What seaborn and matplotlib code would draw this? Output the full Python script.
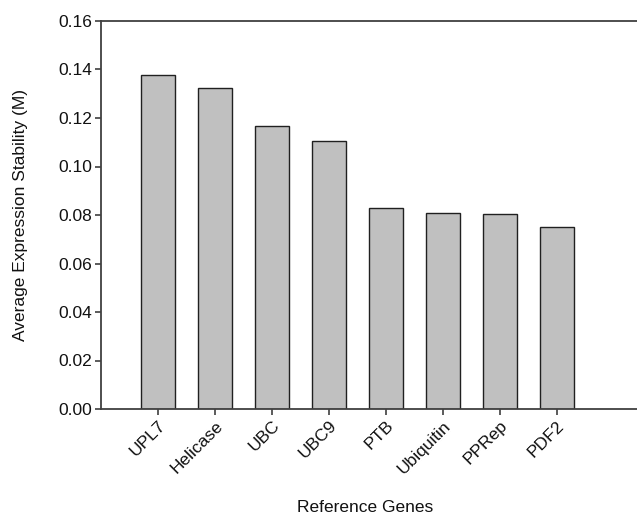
import matplotlib
matplotlib.use("Agg")
import matplotlib.pyplot as plt
import seaborn as sns
import pandas as pd

genes = ["UPL7", "Helicase", "UBC", "UBC9", "PTB", "Ubiquitin", "PPRep", "PDF2"]
stability = [0.1379, 0.1324, 0.1167, 0.1104, 0.0830, 0.0810, 0.0804, 0.0751]
y_ticks = [0.00, 0.02, 0.04, 0.06, 0.08, 0.10, 0.12, 0.14, 0.16]

sns.set_style("ticks")
plt.rcParams['font.family'] = ['Liberation Sans', 'DejaVu Sans']
plt.rcParams['text.color'] = '#111111'
plt.rcParams['axes.labelcolor'] = '#111111'
plt.rcParams['xtick.labelcolor'] = '#111111'
plt.rcParams['ytick.labelcolor'] = '#111111'

df = pd.DataFrame({"gene": genes, "M": stability})

fig = plt.figure(figsize=(6.37, 5.17), dpi=100)
ax = fig.add_axes([101/637, 1 - 409/517, (648 - 101)/637, (409 - 21)/517])

sns.barplot(data=df, x="gene", y="M", color="#c0c0c0", saturation=1,
            edgecolor="#202020", linewidth=1.0, width=0.6, ax=ax)

ax.set_xlim(-1, 8.6)
ax.set_ylim(0, 0.16)
ax.set_yticks(y_ticks)
ax.set_yticklabels([f"{v:.2f}" for v in y_ticks], fontsize=12.5)
ax.set_xticks(range(len(genes)))
ax.set_xticklabels(genes, rotation=45, ha="right", rotation_mode="anchor", fontsize=12.5)

for s in ["left", "bottom", "top"]:
    ax.spines[s].set_color("#404040")
    ax.spines[s].set_linewidth(1.3)
ax.spines["right"].set_visible(False)
ax.tick_params(axis="both", direction="out", length=4.5, width=1.2, color="#404040", pad=2)

ax.set_xlabel("Reference Genes", fontsize=12.5)
ax.set_ylabel("Average Expression Stability (M)", fontsize=12.5)
ax.xaxis.set_label_coords((365 - 101) / 547, (409 - 500) / 388)
ax.yaxis.set_label_coords((20 - 101) / 547, 0.5)
ax.yaxis.label.set_va("center")

fig.savefig("out.png", dpi=100)
